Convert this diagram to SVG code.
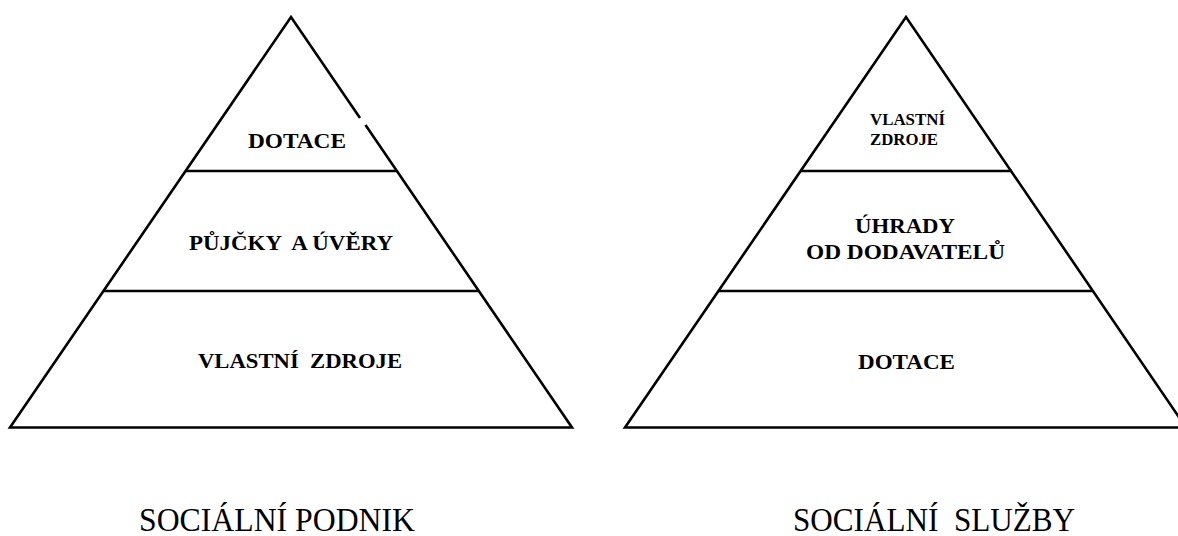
<svg xmlns="http://www.w3.org/2000/svg" width="1178" height="536" viewBox="0 0 1178 536">
<style>
.ln{stroke:#000;stroke-width:2.6;fill:none;stroke-linejoin:miter}
text{font-family:"Liberation Serif","DejaVu Serif",serif;fill:#000}
.b{font-weight:bold;font-size:21px}
.s{font-weight:bold;font-size:17px}
.cap{font-size:34px}
</style>
<rect width="1178" height="536" fill="#fff"/>
<g id="connectors">
<g id="pyramid-left-outline">
<polyline class="ln" points="360,118 291,17 10,427.5 572,427.5 365.5,125"/>
<line class="ln" x1="185" y1="171" x2="397" y2="171"/>
<line class="ln" x1="104" y1="291" x2="478" y2="291"/>
</g>
<g id="pyramid-right-outline">
<polyline class="ln" points="1186,427.5 906,17 625,427.5 1186,427.5"/>
<line class="ln" x1="800" y1="171" x2="1012" y2="171"/>
<line class="ln" x1="719" y1="291" x2="1093" y2="291"/>
</g>
</g>
<g id="left-top"><text class="b" x="248" y="148" textLength="98" lengthAdjust="spacingAndGlyphs">DOTACE</text></g>
<g id="left-middle"><text class="b" x="189" y="250" textLength="204" lengthAdjust="spacingAndGlyphs" xml:space="preserve">PŮJČKY  A ÚVĚRY</text></g>
<g id="left-bottom"><text class="b" x="198" y="368" textLength="204" lengthAdjust="spacingAndGlyphs" xml:space="preserve">VLASTNÍ  ZDROJE</text></g>
<g id="right-top"><text class="s" x="870" y="125" textLength="75" lengthAdjust="spacingAndGlyphs">VLASTNÍ</text><text class="s" x="870" y="145" textLength="68" lengthAdjust="spacingAndGlyphs">ZDROJE</text></g>
<g id="right-middle"><text class="b" x="855" y="233" textLength="100" lengthAdjust="spacingAndGlyphs">ÚHRADY</text><text class="b" x="806" y="259" textLength="199" lengthAdjust="spacingAndGlyphs">OD DODAVATELŮ</text></g>
<g id="right-bottom"><text class="b" x="858" y="369" textLength="97" lengthAdjust="spacingAndGlyphs">DOTACE</text></g>
<g id="caption-left"><text class="cap" x="139" y="531" textLength="276" lengthAdjust="spacingAndGlyphs">SOCIÁLNÍ PODNIK</text></g>
<g id="caption-right"><text class="cap" x="793" y="531" textLength="282" lengthAdjust="spacingAndGlyphs" xml:space="preserve">SOCIÁLNÍ  SLUŽBY</text></g>
</svg>
